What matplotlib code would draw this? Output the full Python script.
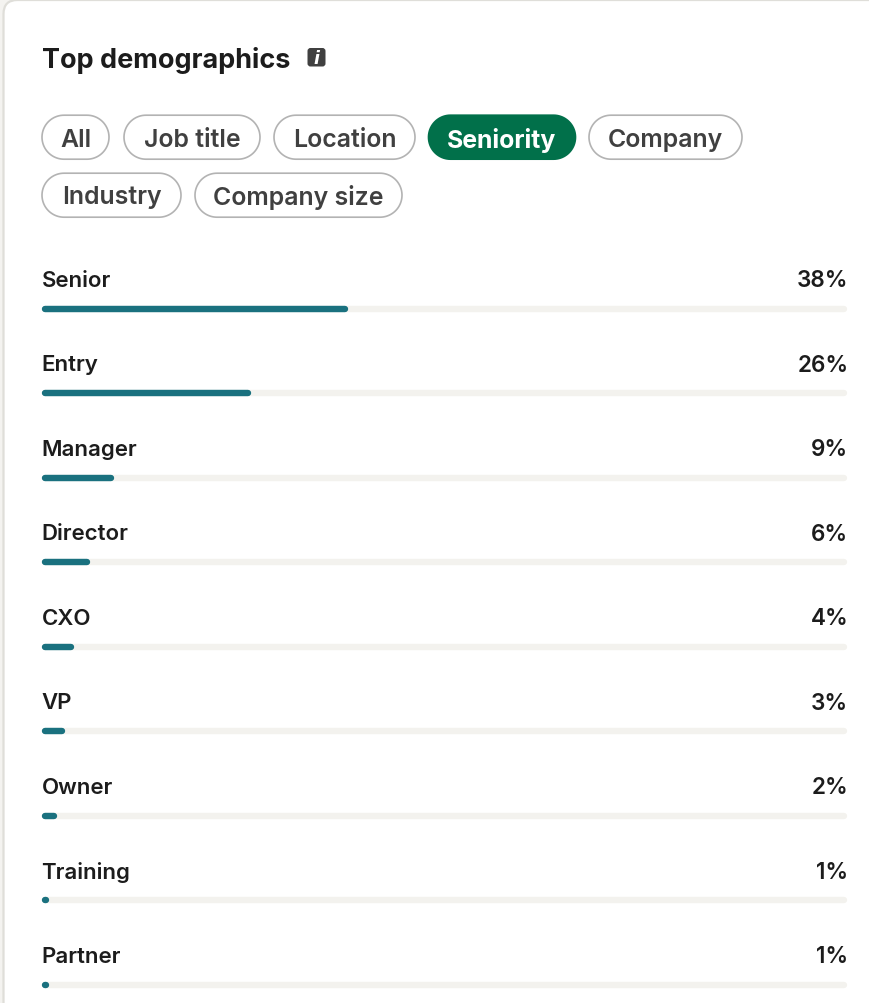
import numpy as np
import matplotlib
matplotlib.use("Agg")
import matplotlib.pyplot as plt
from matplotlib.patches import FancyBboxPatch, Polygon

categories = ["Senior", "Entry", "Manager", "Director", "CXO", "VP", "Owner", "Training", "Partner"]
shares = [38, 26, 9, 6, 4, 3, 2, 1, 1]
title = "Top demographics"
chips_row1 = ["All", "Job title", "Location", "Seniority", "Company"]
chips_row2 = ["Industry", "Company size"]
active_chip = "Seniority"

W, H = 870, 1004
plt.rcParams["font.family"] = ["Inter", "Roboto", "DejaVu Sans"]

fig = plt.figure(figsize=(W / 100, H / 100), dpi=100, facecolor="#f4f3f0")

bg = fig.add_axes([0, 0, 1, 1])
bg.set_xlim(0, W)
bg.set_ylim(H, 0)
bg.axis("off")

bg.add_patch(FancyBboxPatch((3.5, 1), W + 40, H + 40, boxstyle="round,pad=0,rounding_size=14",
                            fc="white", ec="#dfded9", lw=1.6))

bg.text(42, 58, title, fontsize=19.45, fontweight=700, color="#1c1c1c", va="center_baseline", ha="left")
bg.add_patch(FancyBboxPatch((307.5, 49), 18, 18.5, boxstyle="round,pad=0,rounding_size=3",
                            fc="#404040", ec="none"))
bg.text(316.5, 58.5, "i", fontsize=12.5, fontweight="bold", style="italic", color="white",
        ha="center", va="center", family="DejaVu Sans")


def pill(x0, x1, top, h):
    """Outline of a stadium with true circular ends, in pixel coordinates."""
    r = h / 2
    t = np.linspace(-np.pi / 2, np.pi / 2, 40)
    right_end = np.c_[x1 - r + r * np.cos(t), top + r + r * np.sin(t)]
    left_end = np.c_[x0 + r - r * np.cos(t), top + r - r * np.sin(t)]
    return np.vstack([right_end, left_end])


chip_spans = {"All": (42, 109), "Job title": (124, 260), "Location": (274, 415),
              "Seniority": (428.5, 575.5), "Company": (589, 742),
              "Industry": (42, 181), "Company size": (195, 402)}
for names_row, top, dy in ((chips_row1, 116.2, 0.0), (chips_row2, 174.2, -1.1)):
    for name in names_row:
        x0, x1 = chip_spans[name]
        active = name == active_chip
        h = 44
        bg.add_patch(Polygon(pill(x0, x1, top, h), closed=True,
                             fc="#01704a" if active else "white",
                             ec="#01704a" if active else "#b3b3b3", lw=1.2))
        bg.text((x0 + x1) / 2, top + h / 2 + dy, name, fontsize=17.9, fontweight=700 if active else 600,
                color="white" if active else "#404040", ha="center", va="center_baseline")

# Bars: x is percent (full track 0-100), y is category index
left, right = 41.5, 847.5
y_first, y_step = 309.5, 84.5
y_top, y_bot = 250, H
ax = fig.add_axes([left / W, 1 - y_bot / H, (right - left) / W, (y_bot - y_top) / H])
ax.set_xlim(0, 100)
ax.set_ylim((y_bot - y_first) / y_step, (y_top - y_first) / y_step)
ax.axis("off")
ax.patch.set_alpha(0)

thick_px = 6.4
lw = thick_px * 0.72
cap = (thick_px / 2) / (right - left) * 100
label_rise = 30.7 * 0.72
for i, (cat, val) in enumerate(zip(categories, shares)):
    ax.plot([cap, 100 - cap], [i, i], color="#f3f2ee", lw=lw, solid_capstyle="round", clip_on=False)
    ax.plot([cap, val - cap], [i, i], color="#1a717f", lw=lw, solid_capstyle="round", clip_on=False)
    ax.annotate(cat, (0, i), xytext=(0, label_rise), textcoords="offset points",
                fontsize=16.0, fontweight=600, color="#1c1c1c", ha="left", va="center_baseline")
    ax.annotate(f"{val}%", (100, i), xytext=(0.6, label_rise), textcoords="offset points",
                fontsize=16.2, fontweight=600, color="#1c1c1c", ha="right", va="center_baseline")

fig.savefig("out.png", dpi=100, facecolor=fig.get_facecolor())
